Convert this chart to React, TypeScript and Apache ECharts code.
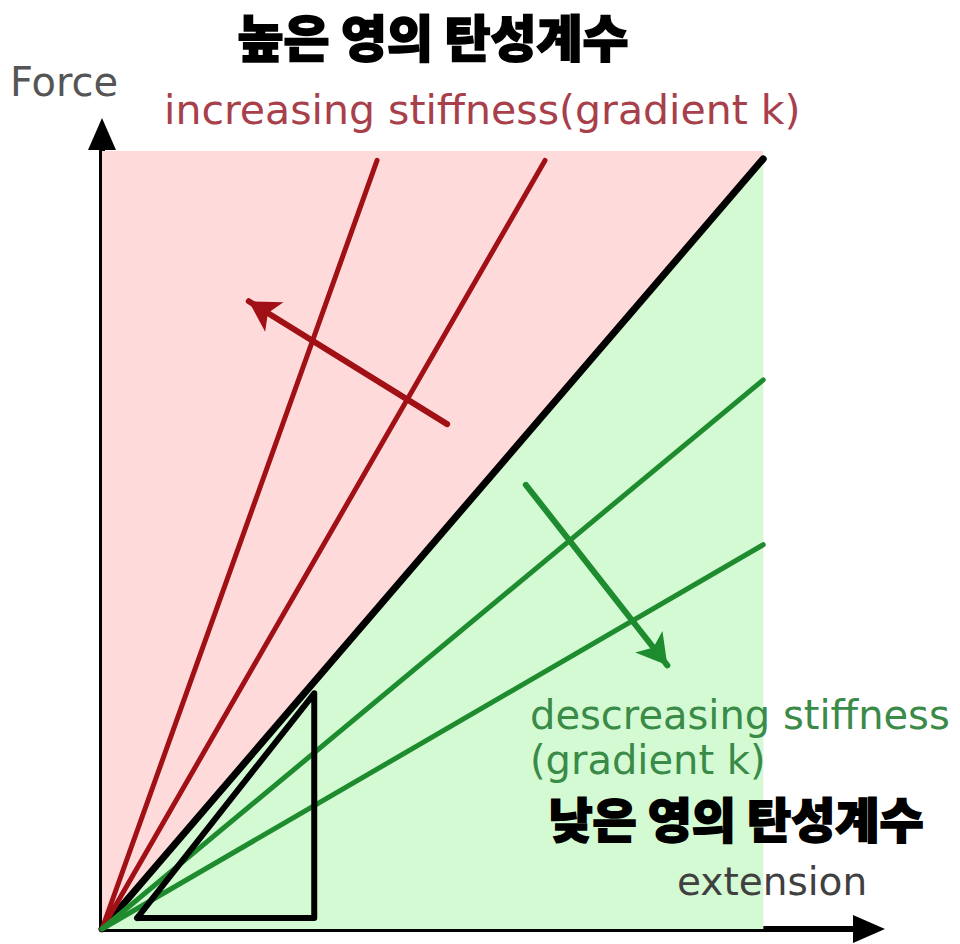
import React, { useEffect, useRef } from "react";
import * as echarts from "echarts";

// Axis extents (extension on x, force on y)
const xAxisMax = 11.6;
const yAxisMax = 10.22;

// Shaded region bounds
const regionX = [0, 10];
const regionY = [0, 10];

// Reference line (black) and the steeper / shallower lines
const referenceLine: [number, number][] = [[0, 0], [10, 9.9]];
const stifferLines: [number, number][][] = [
  [[0, 0], [4.16, 9.88]],
  [[0, 0], [6.7, 9.88]],
];
const softerLines: [number, number][][] = [
  [[0, 0], [10, 7.06]],
  [[0, 0], [10, 4.94]],
];

// Gradient triangle under the reference line
const gradientTriangle: [number, number][] = [
  [0.53, 0.14],
  [3.21, 0.14],
  [3.21, 3.03],
  [0.53, 0.14],
];

// Direction arrows: [start, head]
const stifferArrow: [number, number][] = [[5.22, 6.49], [2.22, 8.07]];
const softerArrow: [number, number][] = [[6.41, 5.71], [8.55, 3.39]];

const RED = "#a01015";
const GREEN = "#1e8c2e";
const PINK_FILL = "#ffdada";
const GREEN_FILL = "#d3fad3";

const LATIN = "'DejaVu Sans', Verdana, sans-serif";
const HANGUL = "'Noto Sans CJK KR', sans-serif";

export default function App() {
  const ref = useRef<HTMLDivElement>(null);

  useEffect(() => {
    if (!ref.current) return;
    const chart = echarts.init(ref.current, undefined, { renderer: "svg" });

    const plainLine = (
      name: string,
      data: [number, number][],
      color: string,
      width: number
    ) => ({
      name,
      type: "line",
      data,
      symbol: "none",
      silent: true,
      lineStyle: { color, width, cap: "round" },
    });

    const arrowSeries = (
      name: string,
      pts: [number, number][],
      color: string
    ) => ({
      name,
      type: "line",
      data: [],
      markLine: {
        silent: true,
        symbol: ["none", "arrow"],
        symbolSize: [26, 30],
        label: { show: false },
        lineStyle: { color, width: 6, type: "solid", cap: "round" },
        emphasis: { disabled: true },
        data: [[{ coord: pts[0] }, { coord: pts[1] }]],
      },
    });

    const axisCommon = {
      type: "value",
      min: 0,
      axisLine: {
        show: true,
        lineStyle: { color: "#000", width: 6 },
        symbol: ["none", "triangle"],
        symbolSize: [28, 32],
      },
      axisTick: { show: false },
      axisLabel: { show: false },
      splitLine: { show: false },
    };

    const label = (
      text: string,
      x: number,
      y: number,
      fill: string,
      fontSize: number,
      family: string,
      align: string,
      heavy = false
    ) => ({
      type: "text",
      x,
      y,
      z: 100,
      style: {
        text,
        fontFamily: family,
        fontSize,
        fontWeight: heavy ? 900 : "normal",
        fill,
        stroke: heavy ? fill : undefined,
        lineWidth: heavy ? 1.6 : 0,
        align,
        verticalAlign: "middle",
      },
    });

    const option: any = {
      animation: false,
      backgroundColor: "#ffffff",
      grid: { left: 102, right: 91, top: 134, bottom: 15 },
      xAxis: { ...axisCommon, max: xAxisMax },
      yAxis: { ...axisCommon, max: yAxisMax },
      series: [
        {
          name: "reference",
          type: "line",
          data: referenceLine,
          symbol: "none",
          silent: true,
          lineStyle: { color: "#000", width: 7, cap: "round" },
          areaStyle: { color: GREEN_FILL, opacity: 1 },
          markArea: {
            silent: true,
            itemStyle: { color: PINK_FILL, opacity: 1 },
            data: [
              [
                { coord: [regionX[0], regionY[0]] },
                { coord: [regionX[1], regionY[1]] },
              ],
            ],
          },
        },
        ...stifferLines.map((d, i) => plainLine("stiffer" + i, d, RED, 5)),
        ...softerLines.map((d, i) => plainLine("softer" + i, d, GREEN, 5)),
        {
          name: "triangle",
          type: "line",
          data: gradientTriangle,
          symbol: "none",
          silent: true,
          lineStyle: { color: "#000", width: 6, join: "round", cap: "round" },
        },
        arrowSeries("stifferArrow", stifferArrow, RED),
        arrowSeries("softerArrow", softerArrow, GREEN),
      ],
      graphic: [
        label("높은 영의 탄성계수", 433, 35, "#000", 50, HANGUL, "center", true),
        label("낮은 영의 탄성계수", 736, 817, "#000", 48, HANGUL, "center", true),
        label("Force", 10, 82, "#555555", 40, LATIN, "left"),
        label("increasing stiffness(gradient k)", 164, 110, "#a8404c", 41, LATIN, "left"),
        label("descreasing stiffness", 530, 715, "#3a8a48", 40, LATIN, "left"),
        label("(gradient k)", 530, 760, "#3a8a48", 40, LATIN, "left"),
        label("extension", 677, 881, "#404040", 39, LATIN, "left"),
      ],
    };

    chart.setOption(option);
    return () => chart.dispose();
  }, []);

  return (
    <div
      ref={ref}
      style={{
        position: "absolute",
        left: 0,
        top: 0,
        width: 960,
        height: 944,
        background: "#ffffff",
      }}
    />
  );
}
